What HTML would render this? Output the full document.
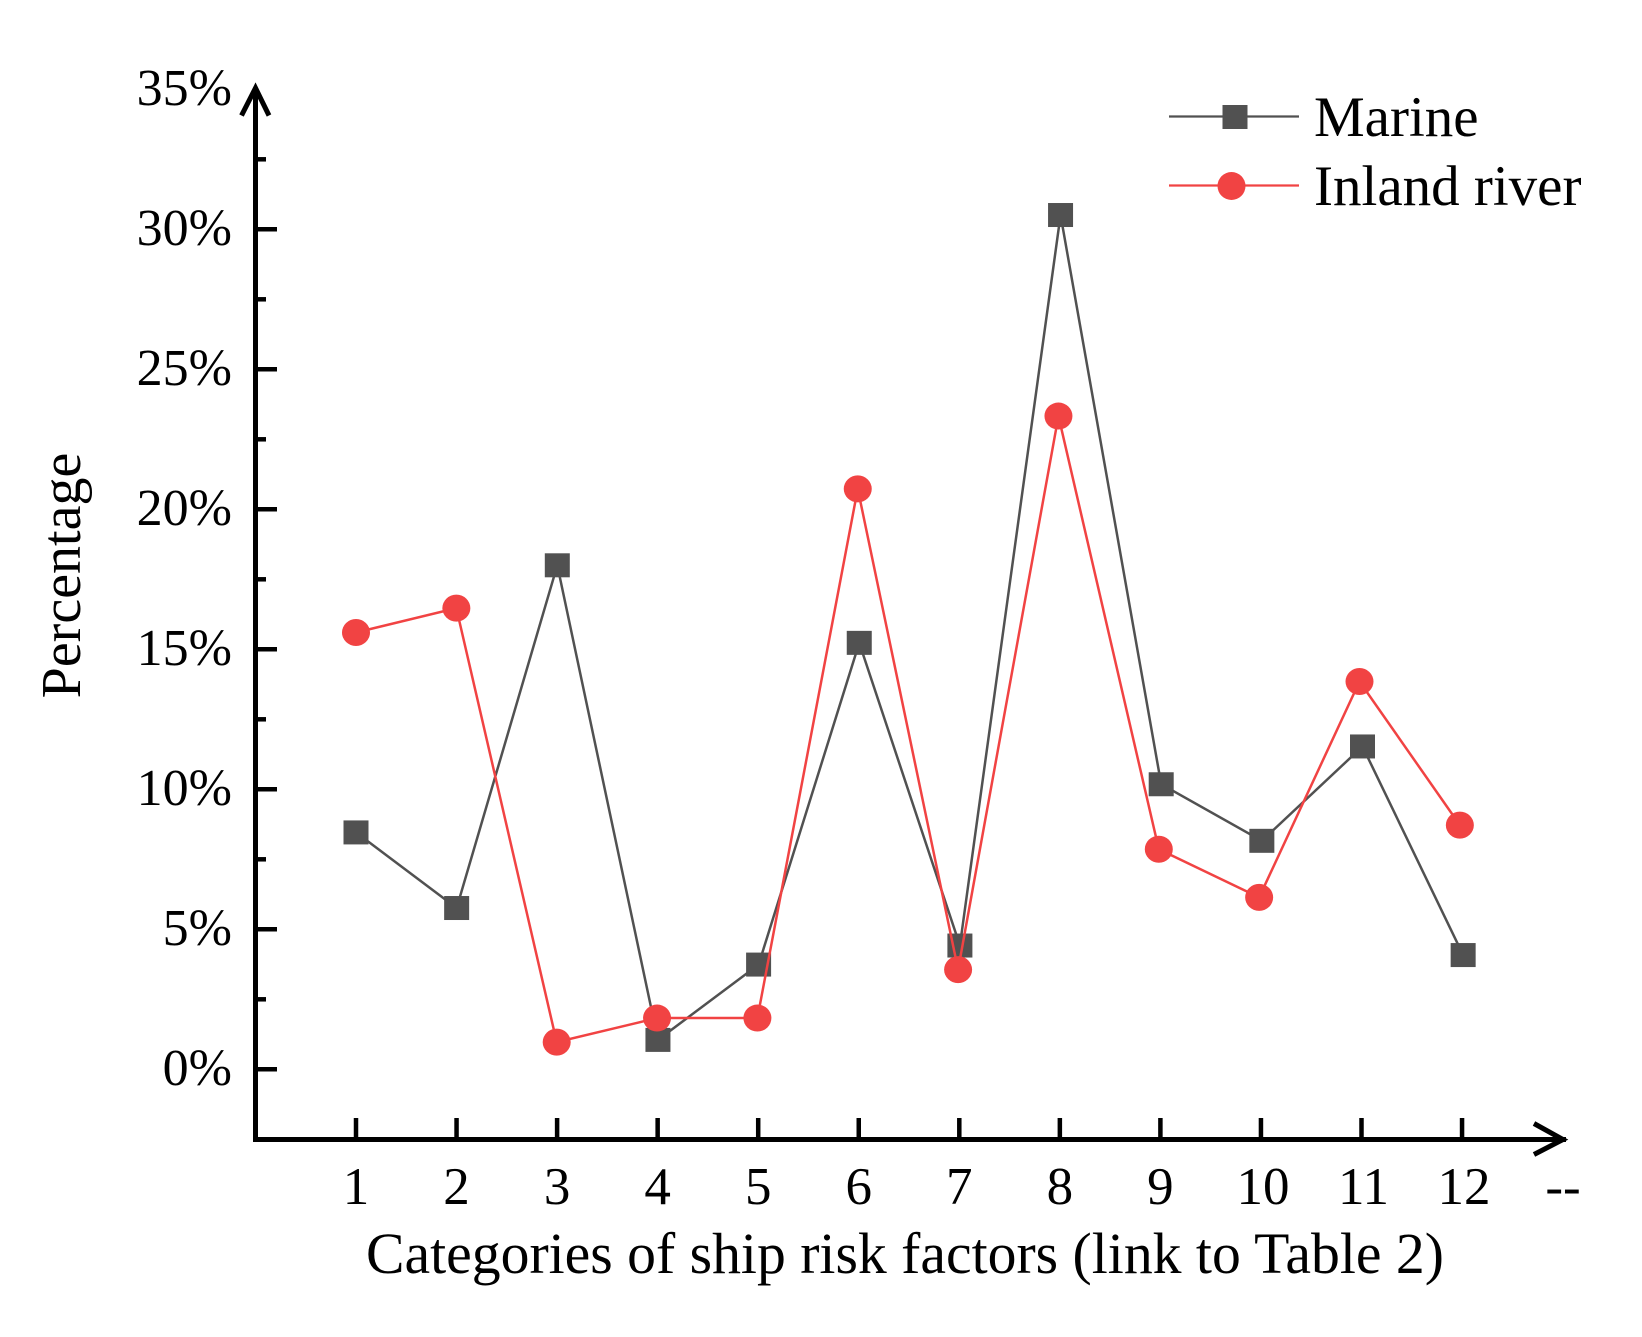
<!DOCTYPE html>
<html lang="en">
<head>
<meta charset="utf-8">
<title>Ship risk factor percentages: marine and inland river</title>
<style>
html,body{margin:0;padding:0;background:#fff;width:1642px;height:1337px;overflow:hidden}
svg{display:block;position:absolute;left:0;top:0}
text{font-family:"Liberation Serif",serif;fill:#000}
</style>
</head>
<body>
<svg id="chart" xmlns="http://www.w3.org/2000/svg" width="1642" height="1337" viewBox="0 0 1642 1337">
<rect x="0" y="0" width="1642" height="1337" fill="#fff"/>
<g id="axes"></g>
<g id="series"></g>
<text transform="translate(80 575.5) rotate(-90)" text-anchor="middle" font-size="56">Percentage</text>
<text x="905" y="1273" text-anchor="middle" font-size="57.7">Categories of ship risk factors (link to Table 2)</text>
<g id="legend">
<g>
<line x1="1169" y1="116.5" x2="1299" y2="116.5" stroke="#515151" stroke-width="2.2"/>
<rect x="1222.5" y="105" width="25" height="24" fill="#515151"/>
<text x="1314" y="136" font-size="57">Marine</text>
</g>
<g>
<line x1="1169" y1="185.5" x2="1299" y2="185.5" stroke="#F14343" stroke-width="2.2"/>
<ellipse cx="1231.5" cy="186" rx="14" ry="14" fill="#F14343"/>
<text x="1314" y="205" font-size="57">Inland river</text>
</g>
</g>
</svg>
<script>
const categories = [1, 2, 3, 4, 5, 6, 7, 8, 9, 10, 11, 12];
const marineValues = [8.46, 5.76, 18.0, 1.05, 3.74, 15.23, 4.42, 30.51, 10.18, 8.16, 11.53, 4.08];
const inlandValues = [15.6, 16.47, 0.97, 1.83, 1.83, 20.73, 3.56, 23.33, 7.86, 6.14, 13.85, 8.72];
const yTickValues = [0, 5, 10, 15, 20, 25, 30, 35];
const yTickLabels = ['0%', '5%', '10%', '15%', '20%', '25%', '30%', '35%'];
const yMinorValues = [2.5, 7.5, 12.5, 17.5, 22.5, 27.5, 32.5];
const xTickLabels = ['1', '2', '3', '4', '5', '6', '7', '8', '9', '10', '11', '12'];

const NS = 'http://www.w3.org/2000/svg';
function xScale(c) { return 356 + 100.55 * (c - 1); }
function xScaleMarine(c) { return 356 + 100.65 * (c - 1); }
function xScaleInland(c) { return 356 + 100.35 * (c - 1); }
function yScale(v) { return 1069.3 - 28 * v; }
function make(tag, parent, attrs) {
  const el = document.createElementNS(NS, tag);
  for (const k in attrs) el.setAttribute(k, attrs[k]);
  parent.appendChild(el);
  return el;
}
const axes = document.getElementById('axes');
const seriesGroup = document.getElementById('series');
const AX = 255.5, AY = 1139.5;

const yAxisLine = make('line', axes, {x1: AX, y1: 90, x2: AX, y2: AY + 2.5, stroke: '#000', 'stroke-width': 5});


const yArrow = make('path', axes, {d: 'M241.5 115.5 L255.5 88 L269 115.5', fill: 'none', stroke: '#000', 'stroke-width': 5});


const xAxisLine = make('line', axes, {x1: AX - 2.5, y1: AY, x2: 1566, y2: AY, stroke: '#000', 'stroke-width': 5});


const xArrow = make('path', axes, {d: 'M1534 1123.5 L1563 1139.5 L1534 1154.5', fill: 'none', stroke: '#000', 'stroke-width': 5});



yTickValues.forEach(function (v, i) {
  if (v < 35) {
    const t = make('line', axes, {x1: AX, y1: yScale(v), x2: 277, y2: yScale(v), stroke: '#000', 'stroke-width': 4.5});
    
    
  }
  const lab = make('text', axes, {x: 232, y: yScale(v) + 15.5, 'text-anchor': 'end', 'font-size': 52});
  lab.textContent = yTickLabels[i];
  
  
});
yMinorValues.forEach(function (v) {
  const t = make('line', axes, {x1: AX, y1: yScale(v), x2: 266, y2: yScale(v), stroke: '#000', 'stroke-width': 4.5});
  
  
});
categories.forEach(function (c, i) {
  const t = make('line', axes, {x1: xScale(c), y1: 1118, x2: xScale(c), y2: AY, stroke: '#000', 'stroke-width': 4.5});
  
  
  const lab = make('text', axes, {x: xScale(c) + (c >= 10 ? 2 : 0), y: 1204, 'text-anchor': 'middle', 'font-size': 53});
  lab.textContent = xTickLabels[i];
  
  
});
const xUnit = make('text', axes, {x: 1563, y: 1204, 'text-anchor': 'middle', 'font-size': 53});
xUnit.textContent = '--';



const marineLine = make('polyline', seriesGroup, {
  points: categories.map(function (c, i) { return xScaleMarine(c) + ',' + yScale(marineValues[i]); }).join(' '),
  fill: 'none', stroke: '#515151', 'stroke-width': 2.5
});


categories.forEach(function (c, i) {
  const m = make('rect', seriesGroup, {x: xScaleMarine(c) - 12.5, y: yScale(marineValues[i]) - 12, width: 25, height: 24, fill: '#515151'});
  
  
});
const inlandLine = make('polyline', seriesGroup, {
  points: categories.map(function (c, i) { return xScaleInland(c) + ',' + yScale(inlandValues[i]); }).join(' '),
  fill: 'none', stroke: '#F14343', 'stroke-width': 2.5
});


categories.forEach(function (c, i) {
  const m = make('ellipse', seriesGroup, {cx: xScaleInland(c), cy: yScale(inlandValues[i]), rx: 14, ry: 13.5, fill: '#F14343'});
  
  
});
</script>
</body>
</html>
